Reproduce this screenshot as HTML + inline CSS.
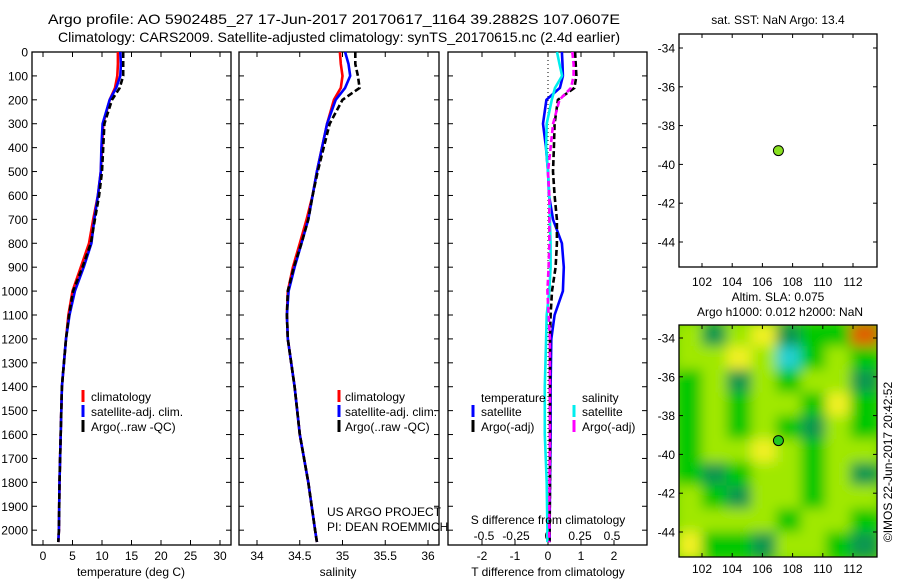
<!DOCTYPE html>
<html><head><meta charset="utf-8"><style>
html,body{margin:0;padding:0;background:#fff;}
svg{display:block;font-family:"Liberation Sans",sans-serif;}
text{fill:#000;}
</style></head><body>
<svg id="fig" width="900" height="580" viewBox="0 0 900 580">
<defs>
<filter id="blur" x="-10%" y="-10%" width="120%" height="120%"><feGaussianBlur stdDeviation="6"/></filter>
<clipPath id="mapclip"><rect x="679" y="325" width="198" height="232"/></clipPath>
</defs>
<text x="48" y="24" font-size="14" textLength="572" lengthAdjust="spacingAndGlyphs">Argo profile: AO 5902485_27 17-Jun-2017 20170617_1164 39.2882S 107.0607E</text>
<text x="58" y="42" font-size="14" textLength="562" lengthAdjust="spacingAndGlyphs">Climatology: CARS2009. Satellite-adjusted climatology: synTS_20170615.nc (2.4d earlier)</text>
<g id="layer"></g>
</svg>
<script>
const depths=[0,50,100,150,200,300,400,500,600,700,800,900,1000,1100,1200,1400,1600,1800,2000,2050];
const tempClim=[12.7,12.7,12.6,12.2,11.3,10.2,10.0,9.8,9.3,8.5,7.8,6.4,5.0,4.3,3.9,3.2,3.0,2.8,2.7,2.6];
const tempSat=[13.1,13.2,13.1,12.4,11.3,10.1,9.9,9.8,9.3,8.7,8.2,6.9,5.4,4.5,3.9,3.2,3.0,2.8,2.7,2.6];
const tempArgo=[13.6,13.6,13.6,13.0,11.7,10.4,10.2,10.0,9.5,8.8,8.1,6.7,5.1,4.4,3.9,3.2,3.0,2.8,2.7,2.6];
const salClim=[34.97,34.98,35.0,34.98,34.9,34.82,34.76,34.7,34.65,34.58,34.5,34.42,34.36,34.35,34.36,34.44,34.5,34.6,34.68,34.70];
const salSat=[35.03,35.07,35.09,35.03,34.92,34.82,34.76,34.7,34.65,34.6,34.52,34.44,34.37,34.35,34.36,34.44,34.5,34.6,34.68,34.70];
const salArgo=[35.15,35.15,35.18,35.2,35.0,34.85,34.78,34.71,34.65,34.6,34.52,34.43,34.36,34.35,34.36,34.44,34.5,34.6,34.68,34.70];
const dTSat=[0.42,0.44,0.45,0.36,-0.05,-0.15,-0.06,0,0.03,0.15,0.42,0.48,0.45,0.2,0.1,0.08,0.08,0.06,0.05,0.05];
const dTArgo=[0.82,0.84,0.86,0.8,0.3,0.2,0.18,0.15,0.2,0.27,0.27,0.23,0.12,0.08,0.06,0.06,0.06,0.06,0.05,0.05];
const dSSat=[0.07,0.09,0.11,0.055,0.03,-0.01,-0.015,0,0.01,0.015,0.02,0.02,0.01,-0.01,-0.015,-0.025,-0.025,-0.01,-0.005,-0.005];
const dSArgo=[0.19,0.2,0.2,0.18,0.09,0.04,0.02,0,0.01,0.01,0.01,0.005,-0.005,0.005,0.015,0.015,0.015,0.012,0.01,0.01];
const depthTicks=[0,100,200,300,400,500,600,700,800,900,1000,1100,1200,1300,1400,1500,1600,1700,1800,1900,2000];
const tempTicks=[0,5,10,15,20,25,30];
const salTicks=[34,34.5,35,35.5,36];
const salTickLabels=["34","34.5","35","35.5","36"];
const dTTicks=[-2,-1,0,1,2];
const dSTicks=[-0.5,-0.25,0,0.25,0.5];
const dSTickLabels=["-0.5","-0.25","0","0.25","0.5"];
const lonTicks=[102,104,106,108,110,112];
const latTicks=[-34,-36,-38,-40,-42,-44];
const argoLon=107.0607, argoLat=-39.2882;
const slaGrid=[
[1,-1,1,2,-1,0,0,3],
[1,1,2,1,-2,0,1,0],
[0,1,-1,1,0,1,1,-1],
[0,1,0,1,1,0,2,0],
[0,1,0,1,0,-1,1,0],
[0,1,1,2,1,0,1,1],
[0,-1,0,1,1,0,1,-1],
[1,0,-1,1,1,0,1,1],
[1,1,1,1,0,1,1,0],
[2,0,0,-1,1,1,0,-1]];

const NS="http://www.w3.org/2000/svg";
const L=document.getElementById('layer');
function mk(tag,attrs,parent){const e=document.createElementNS(NS,tag);for(const k in attrs)e.setAttribute(k,attrs[k]);(parent||L).appendChild(e);return e;}
function txt(x,y,s,size,anchor){const t=mk('text',{x:x,y:y,'font-size':size,'text-anchor':anchor||'start'});t.textContent=s;return t;}

const Y0=52, YB=545, ys=(545-52)/2062;
const yD=d=>Y0+d*ys;
const xT=v=>43+v*5.9;
const xS=v=>342.5+(v-35)*85.5;
const xDT=v=>548+v*33;
const xDS=v=>548+v*128;

function frame(x0,x1,y0,y1,name){const r=mk('rect',{x:x0,y:y0,width:x1-x0,height:y1-y0,fill:'none',stroke:'#000','stroke-width':1.3});

}
function depthAxis(x0,x1,labels){depthTicks.forEach(d=>{const y=yD(d);
mk('line',{x1:x0,y1:y,x2:x0+5,y2:y,stroke:'#000'});mk('line',{x1:x1,y1:y,x2:x1-5,y2:y,stroke:'#000'});
if(labels){const t=txt(28,y+4.5,String(d),12,'end');

}});}
function xTicks(vals,labs,fx,yTop,yBot,labY,name){vals.forEach((v,i)=>{const x=fx(v);
if(yTop!==null)mk('line',{x1:x,y1:yTop,x2:x,y2:yTop+5,stroke:'#000'});
mk('line',{x1:x,y1:yBot,x2:x,y2:yBot-5,stroke:'#000'});
const t=txt(x,labY,labs[i],12,'middle');

});}
function series(vals,fx,color,dash,name){const pts=vals.map((v,i)=>fx(v).toFixed(1)+','+yD(depths[i]).toFixed(1)).join(' ');
const p=mk('polyline',{points:pts,fill:'none',stroke:color,'stroke-width':2.6,'stroke-dasharray':dash||'none','stroke-linejoin':'round'});

}
function legendEntry(mx,tx,y,color,label,name){mk('rect',{x:mx-1.5,y:y-7,width:3,height:12,fill:color});
const t=txt(tx,y+4,label,12);

}

// Panel 1 temperature
frame(32,231,Y0,YB,'temperature-panel');
depthAxis(32,231,true);
xTicks(tempTicks,tempTicks.map(String),xT,Y0,YB,560,'temperature-tick-label');
series(tempClim,xT,'#f00',null,'temperature-climatology-line');
series(tempSat,xT,'#00f',null,'temperature-satellite-line');
series(tempArgo,xT,'#000','6,3','temperature-argo-line');
legendEntry(83,91,397,'#f00','climatology','legend-climatology');
legendEntry(83,91,412,'#00f','satellite-adj. clim.','legend-satellite');
legendEntry(83,91,427,'#000','Argo(..raw -QC)','legend-argo');
let t=txt(131,576,'temperature (deg C)',12,'middle');



// Panel 2 salinity
frame(239,439,Y0,YB,'salinity-panel');
depthAxis(239,439,false);
xTicks(salTicks,salTickLabels,xS,Y0,YB,560,'salinity-tick-label');
series(salClim,xS,'#f00',null,'salinity-climatology-line');
series(salSat,xS,'#00f',null,'salinity-satellite-line');
series(salArgo,xS,'#000','6,3','salinity-argo-line');
legendEntry(339,345,397,'#f00','climatology','legend-climatology-sal');
legendEntry(339,345,412,'#00f','satellite-adj. clim.','legend-satellite-sal');
legendEntry(339,345,427,'#000','Argo(..raw -QC)','legend-argo-sal');
t=txt(338,576,'salinity',12,'middle');


t=txt(327,516,'US ARGO PROJECT',12);


t=txt(327,531,'PI: DEAN ROEMMICH',12);



// Panel 3 differences
frame(448,647,Y0,YB,'difference-panel');
depthAxis(448,647,false);
const zl=mk('line',{x1:548,y1:Y0,x2:548,y2:YB,stroke:'#000','stroke-dasharray':'1,3'});


xTicks(dTTicks,dTTicks.map(String),xDT,Y0,YB,560,'t-difference-tick-label');
dSTicks.forEach((v,i)=>{const tt=txt(xDS(v),540,dSTickLabels[i],12,'middle');

});
series(dTSat,xDT,'#00f',null,'t-diff-satellite-line');
series(dTArgo,xDT,'#000','6,3','t-diff-argo-line');
series(dSSat,xDS,'#0ee',null,'s-diff-satellite-line');
series(dSArgo,xDS,'#f0f','6,3','s-diff-argo-line');
t=txt(481,402,'temperature',12);


t=txt(582,402,'salinity',12);


legendEntry(473,481,412,'#00f','satellite','legend-t-satellite');
legendEntry(473,481,427,'#000','Argo(-adj)','legend-t-argo');
legendEntry(574,582,412,'#0ee','satellite','legend-s-satellite');
legendEntry(574,582,427,'#f0f','Argo(-adj)','legend-s-argo');
t=txt(548,524,'S difference from climatology',12,'middle');


t=txt(548,576,'T difference from climatology',12,'middle');



// Maps
const xLon=v=>702+(v-102)*15.1;
function mapAxes(y0,y1,lat0,labOff,name){
lonTicks.forEach(v=>{const x=xLon(v);mk('line',{x1:x,y1:y0,x2:x,y2:y0+4,stroke:'#000'});mk('line',{x1:x,y1:y1,x2:x,y2:y1-4,stroke:'#000'});
const tt=txt(x,y1+labOff,String(v),12,'middle');

});
latTicks.forEach(v=>{const y=lat0(v);mk('line',{x1:679,y1:y,x2:683,y2:y,stroke:'#000'});mk('line',{x1:877,y1:y,x2:873,y2:y,stroke:'#000'});
const tt=txt(675,y+4.5,String(v),12,'end');

});
frame(679,877,y0,y1,name);}
const yLat1=v=>48+(-34-v)*19.4;
const yLat2=v=>338+(-34-v)*19.4;

t=txt(778,24,'sat. SST: NaN Argo: 13.4',12,'middle');


mapAxes(34,267,yLat1,19,'sst-map-frame');
let c=mk('circle',{cx:xLon(argoLon),cy:yLat1(argoLat),r:5,fill:'#88e020',stroke:'#000','stroke-width':1});



// SLA heatmap
const cols={'-2':'#20d0d0','-1':'#109850','0':'#00c800','1':'#a0e800','2':'#f0f020','3':'#e06000'};
const g=mk('g',{'clip-path':'url(#mapclip)'});


mk('rect',{x:679,y:325,width:198,height:232,fill:'#70d800'},g);
const gb=mk('g',{filter:'url(#blur)'},g);
const cw=198/8, chh=232/10;
slaGrid.forEach((row,r)=>row.forEach((v,ci)=>{const cell=mk('rect',{x:679+ci*cw-2,y:325+r*chh-2,width:cw+4,height:chh+4,fill:cols[String(v)]},gb);

}));
t=txt(778,301,'Altim. SLA: 0.075',12,'middle');


t=txt(780,316,'Argo h1000: 0.012 h2000: NaN',12,'middle');


mapAxes(325,557,yLat2,16,'sla-map-frame');
c=mk('circle',{cx:xLon(argoLon),cy:yLat2(argoLat),r:5,fill:'#20c820',stroke:'#000','stroke-width':1});


t=txt(0,0,'©IMOS 22-Jun-2017 20:42:52',12,'middle');
t.setAttribute('transform','translate(892,462) rotate(-90)');


</script>
</body></html>
